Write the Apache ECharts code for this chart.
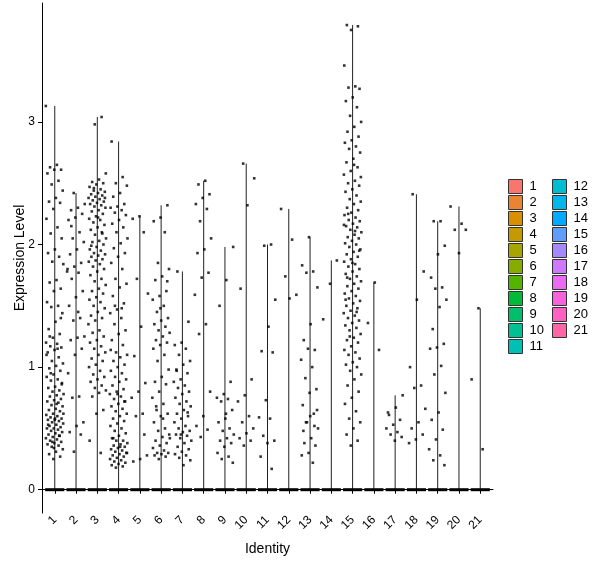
<!DOCTYPE html>
<html>
<head>
    <meta charset="utf-8">
    <script type="text/javascript" src="https://cdn.jsdelivr.net/npm/echarts@6/dist/echarts.min.js"></script>
    <title>VlnPlot</title>
</head>
<body style="margin:0">
    <div id="container" style="width:600px;height:568px;"></div>
    <script type="text/javascript">
    // cluster names and their ggplot hue colours
    var identities = ['1','2','3','4','5','6','7','8','9','10','11','12','13','14','15','16','17','18','19','20','21'];
    var colors = ['#F8766D','#EB8335','#DA8F00','#C49A00','#A9A400','#86AC00','#53B400','#00BA38','#00BE6C','#00C094',
                  '#00C0B5','#00BDD2','#00B6EB','#00ABFD','#619CFF','#A58AFF','#CF78FF','#EA6AF1','#F962DD','#FF61C3','#FF67A4'];
    var yTicks = [0, 1, 2, 3];

    // expression values of the non-zero cells, per cluster
    var c1 = [3.13, 2.65, 2.63, 2.61, 2.61, 2.58, 2.52, 2.49, 2.44, 2.38, 2.35, 2.34, 2.29, 2.21, 2.14, 2.09, 2.05, 1.96, 1.93, 1.90,
              1.86, 1.84, 1.71, 1.69, 1.64, 1.62, 1.53, 1.50, 1.49, 1.44, 1.37, 1.31, 1.27, 1.24, 1.20, 1.19, 1.17, 1.16, 1.14, 1.12,
              1.08, 1.05, 1.03, 1.01, 0.99, 0.97, 0.94, 0.92, 0.90, 0.89, 0.87, 0.84, 0.83, 0.81, 0.80, 0.78, 0.77, 0.76, 0.74, 0.73,
              0.72, 0.71, 0.69, 0.68, 0.66, 0.65, 0.64, 0.62, 0.61, 0.60, 0.59, 0.58, 0.57, 0.57, 0.56, 0.55, 0.54, 0.53, 0.52, 0.51,
              0.50, 0.50, 0.49, 0.48, 0.47, 0.46, 0.45, 0.44, 0.43, 0.42, 0.41, 0.40, 0.39, 0.38, 0.37, 0.36, 0.35, 0.33, 0.31, 0.29,
              0.27, 0.25, 1.10, 1.15, 0.95, 0.86, 0.58, 0.53, 0.44, 0.39, 0.62, 0.70, 1.25, 1.40, 0.34];
    var c2 = [2.42, 2.33, 2.30, 2.28, 2.25, 2.22, 2.20, 2.10, 2.05, 2.02, 1.96, 1.92, 1.85, 1.82, 1.80, 1.77, 1.72, 1.62, 1.57, 1.50,
              1.40, 1.38, 1.25, 1.24, 1.22, 1.15, 1.10, 0.95, 0.76, 0.75, 0.55, 0.52, 0.47, 0.45, 0.31, 1.78, 1.45, 2.15];
    var c3 = [3.04, 2.98, 2.58, 2.53, 2.51, 2.50, 2.49, 2.47, 2.45, 2.44, 2.43, 2.42, 2.41, 2.40, 2.39, 2.38, 2.37, 2.36, 2.35, 2.34,
              2.33, 2.32, 2.31, 2.30, 2.28, 2.27, 2.25, 2.23, 2.21, 2.20, 2.18, 2.16, 2.14, 2.12, 2.10, 2.08, 2.05, 2.03, 2.02, 2.00,
              1.98, 1.96, 1.95, 1.93, 1.92, 1.91, 1.90, 1.88, 1.87, 1.86, 1.84, 1.82, 1.80, 1.78, 1.75, 1.72, 1.70, 1.67, 1.64, 1.62,
              1.60, 1.57, 1.55, 1.53, 1.50, 1.48, 1.45, 1.42, 1.40, 1.38, 1.35, 1.30, 1.28, 1.25, 1.22, 1.20, 1.17, 1.15, 1.12, 1.10,
              1.07, 1.05, 1.02, 1.00, 0.97, 0.94, 0.92, 0.90, 0.88, 0.85, 0.83, 0.81, 0.79, 0.76, 0.65, 0.62, 0.40, 0.30, 2.46, 2.38,
              2.22, 1.99, 2.09];
    var c4 = [2.84, 2.55, 2.50, 2.48, 2.42, 2.39, 2.33, 2.31, 2.30, 2.28, 2.26, 2.24, 2.20, 2.17, 2.14, 2.10, 2.05, 2.01, 1.97, 1.93,
              1.90, 1.85, 1.80, 1.72, 1.68, 1.65, 1.58, 1.52, 1.47, 1.44, 1.40, 1.35, 1.30, 1.27, 1.22, 1.18, 1.12, 1.10, 1.08, 1.05,
              1.02, 1.00, 0.97, 0.95, 0.92, 0.90, 0.88, 0.85, 0.82, 0.80, 0.78, 0.76, 0.74, 0.72, 0.70, 0.68, 0.66, 0.64, 0.62, 0.60,
              0.58, 0.56, 0.54, 0.52, 0.50, 0.48, 0.46, 0.44, 0.42, 0.40, 0.40, 0.38, 0.37, 0.36, 0.35, 0.34, 0.33, 0.32, 0.31, 0.30,
              0.29, 0.28, 0.27, 0.26, 0.25, 0.24, 0.23, 0.22, 0.21, 0.20, 0.19, 0.18, 0.30, 0.35, 0.42, 0.72, 0.78, 1.14, 1.48, 1.50];
    var c5 = [2.23, 2.21, 2.10, 1.72, 1.60, 1.33, 1.09, 0.87, 0.80, 0.75, 0.62, 0.60, 0.28, 0.25, 0.23, 0.45];
    var c6 = [2.32, 2.22, 2.19, 2.10, 1.85, 1.80, 1.74, 1.71, 1.62, 1.58, 1.55, 1.50, 1.45, 1.40, 1.38, 1.35, 1.33, 1.30, 1.28, 1.25,
              1.22, 1.20, 1.18, 1.15, 1.10, 1.05, 0.98, 0.92, 0.88, 0.86, 0.80, 0.75, 0.70, 0.65, 0.62, 0.60, 0.55, 0.50, 0.48, 0.45,
              0.43, 0.40, 0.38, 0.36, 0.34, 0.32, 0.30, 0.30, 0.29, 0.28, 0.27, 0.25, 0.42, 0.58, 0.68, 1.70, 1.48];
    var c7 = [1.78, 1.37, 1.20, 1.18, 1.15, 1.10, 1.05, 1.02, 0.98, 0.95, 0.90, 0.88, 0.85, 0.83, 0.80, 0.78, 0.75, 0.72, 0.70, 0.68,
              0.65, 0.62, 0.60, 0.58, 0.55, 0.52, 0.50, 0.48, 0.47, 0.45, 0.44, 0.42, 0.40, 0.38, 0.35, 0.33, 0.31, 0.29, 0.28, 0.26,
              0.24, 0.20, 0.97, 0.63, 0.45];
    var c8 = [2.52, 2.49, 2.41, 2.38, 2.33, 2.29, 2.19, 2.05, 1.96, 1.93, 1.77, 1.73, 1.59, 1.35, 1.27, 0.80, 0.60, 0.52, 0.49, 0.43];
    var c9 = [1.98, 1.71, 1.50, 0.88, 0.78, 0.75, 0.74, 0.72, 0.65, 0.58, 0.55, 0.50, 0.48, 0.45, 0.42, 0.40, 0.38, 0.35, 0.30, 0.27,
              0.25, 0.22, 0.62];
    var c10 = [2.66, 2.54, 2.32, 1.64, 0.90, 0.77, 0.72, 0.60, 0.55, 0.50, 0.46, 0.42, 0.40, 0.36];
    var c11 = [2.00, 1.99, 1.55, 1.33, 1.13, 1.12, 0.73, 0.59, 0.58, 0.44, 0.40, 0.38, 0.27, 0.17];
    var c12 = [2.29, 2.04, 1.74, 1.59, 1.56];
    var c13 = [2.06, 1.83, 1.78, 1.77, 1.65, 1.35, 1.22, 1.14, 1.15, 1.06, 1.00, 0.91, 0.82, 0.79, 0.69, 0.62, 0.55, 0.50, 0.42, 0.38,
               0.36, 0.30, 0.28, 0.22, 0.55, 0.65, 0.60, 0.48, 0.52];
    var c14 = [1.87, 1.68, 1.39];
    var c15 = [3.79, 3.78, 3.75, 3.46, 3.29, 3.28, 3.27, 3.20, 3.17, 3.12, 3.05, 3.00, 2.96, 2.92, 2.88, 2.85, 2.83, 2.80, 2.78, 2.75,
               2.70, 2.67, 2.63, 2.60, 2.57, 2.52, 2.50, 2.48, 2.45, 2.43, 2.40, 2.37, 2.35, 2.33, 2.30, 2.28, 2.26, 2.24, 2.22, 2.20,
               2.19, 2.17, 2.15, 2.14, 2.12, 2.10, 2.08, 2.06, 2.05, 2.03, 2.01, 2.00, 1.98, 1.96, 1.94, 1.92, 1.90, 1.88, 1.86, 1.84,
               1.82, 1.80, 1.78, 1.76, 1.74, 1.72, 1.70, 1.68, 1.66, 1.64, 1.62, 1.60, 1.58, 1.56, 1.54, 1.52, 1.50, 1.48, 1.46, 1.44,
               1.42, 1.40, 1.38, 1.36, 1.34, 1.32, 1.30, 1.27, 1.24, 1.22, 1.20, 1.17, 1.14, 1.12, 1.10, 1.07, 1.04, 1.02, 1.00, 0.97,
               0.94, 0.90, 0.85, 0.80, 0.75, 0.70, 0.64, 0.58, 0.55, 0.50, 0.45, 0.40, 0.36, 2.16, 2.11, 2.25, 1.95, 1.85, 1.55, 1.45,
               1.25, 2.55, 2.65, 1.73];
    var c16 = [1.69, 1.36, 1.14];
    var c17 = [0.77, 0.67, 0.61, 0.57, 0.53, 0.50, 0.47, 0.45, 0.43, 0.40, 0.63];
    var c18 = [2.41, 1.78, 1.55, 1.00, 0.85, 0.83, 0.66, 0.55, 0.50, 0.45, 0.41, 0.38];
    var c19 = [2.19, 2.19, 1.99, 1.92, 1.73, 1.65, 1.64, 1.55, 1.49, 1.31, 1.19, 1.16, 1.15, 1.01, 0.94, 0.79, 0.63, 0.57, 0.49, 0.41,
               0.33, 0.28, 0.24, 0.20];
    var c20 = [2.31, 2.17, 2.12, 2.12, 1.93];
    var c21 = [1.48, 0.90, 0.33];
    var clusters = [c1, c2, c3, c4, c5, c6, c7, c8, c9, c10, c11, c12, c13, c14, c15, c16, c17, c18, c19, c20, c21];

    var myChart = echarts.init(document.getElementById('container'));

    // violin outline: thin stem up to the max value + the heap of zero cells
    function renderViolin(params, api) {
        var x = api.value(0), top = api.value(1);
        var a = api.coord([x, 0]), b = api.coord([x, top]);
        var l = api.coord([x - 0.45, 0]), r = api.coord([x + 0.45, 0]);
        return {
            type: 'group',
            children: [
                { type: 'line', shape: { x1: a[0], y1: a[1], x2: b[0], y2: b[1] }, style: { stroke: '#222', lineWidth: 1 } },
                { type: 'line', shape: { x1: l[0], y1: l[1], x2: r[0], y2: r[1] }, style: { stroke: '#000', lineWidth: 3 } }
            ]
        };
    }

    var series = [];
    var points = [];
    identities.forEach(function (name, i) {
        var vals = clusters[i];
        series.push({
            name: name,
            type: 'custom',
            renderItem: renderViolin,
            itemStyle: { color: colors[i] },
            data: [[i + 1, Math.max.apply(null, vals)]],
            z: 2
        });
        // jittered position inside the band (like geom_jitter, width 0.4)
        vals.forEach(function (v, k) {
            var j = ((k * 0.6180339887 + i * 0.37) % 1) * 0.84 - 0.42;
            points.push([i + 1 + j, v]);
        });
    });
    series.push({
        name: 'cells',
        type: 'scatter',
        symbol: 'rect',
        symbolSize: 2.6,
        itemStyle: { color: '#000' },
        data: points,
        z: 3
    });

    var legendCommon = {
        orient: 'vertical',
        icon: 'rect',
        itemWidth: 14,
        itemHeight: 14,
        itemGap: 1,
        selectedMode: false,
        itemStyle: { borderColor: '#333', borderWidth: 1 },
        textStyle: { color: '#000', fontSize: 13, lineHeight: 14, fontFamily: 'Liberation Sans, Arial', padding: [0, 0, 0, 2] }
    };

    var option = {
        animation: false,
        backgroundColor: '#fff',
        grid: { left: 42, right: 107, top: 3, bottom: 55, containLabel: false, outerBoundsMode: 'none' },
        legend: [
            Object.assign({ left: 503, top: 174, data: identities.slice(0, 11) }, legendCommon),
            Object.assign({ left: 547, top: 174, data: identities.slice(11) }, legendCommon)
        ],
        xAxis: {
            type: 'value',
            min: 0.4,
            max: 21.6,
            name: 'Identity',
            nameLocation: 'middle',
            nameGap: 29,
            nameMoveOverlap: false,
            nameTextStyle: { color: '#000', fontSize: 14, fontFamily: 'Liberation Sans, Arial' },
            axisLine: { lineStyle: { color: '#000', width: 1 } },
            axisTick: { length: 4, lineStyle: { color: '#000' }, customValues: identities.map(Number) },
            axisLabel: {
                customValues: identities.map(Number),
                rotate: 45,
                margin: 5,
                color: '#000',
                fontSize: 12,
                fontFamily: 'Liberation Sans, Arial'
            },
            splitLine: { show: false }
        },
        yAxis: {
            type: 'value',
            min: -0.19,
            max: 3.97,
            name: 'Expression Level',
            nameLocation: 'middle',
            nameGap: 15,
            nameMoveOverlap: false,
            nameTextStyle: { color: '#000', fontSize: 14, fontFamily: 'Liberation Sans, Arial' },
            axisLine: { show: true, lineStyle: { color: '#000', width: 1 } },
            axisTick: { show: true, length: 4, lineStyle: { color: '#000' }, customValues: yTicks },
            axisLabel: { customValues: yTicks, margin: 7, color: '#000', fontSize: 12, fontFamily: 'Liberation Sans, Arial' },
            splitLine: { show: false }
        },
        series: series
    };

    myChart.setOption(option);
    </script>
</body>
</html>
